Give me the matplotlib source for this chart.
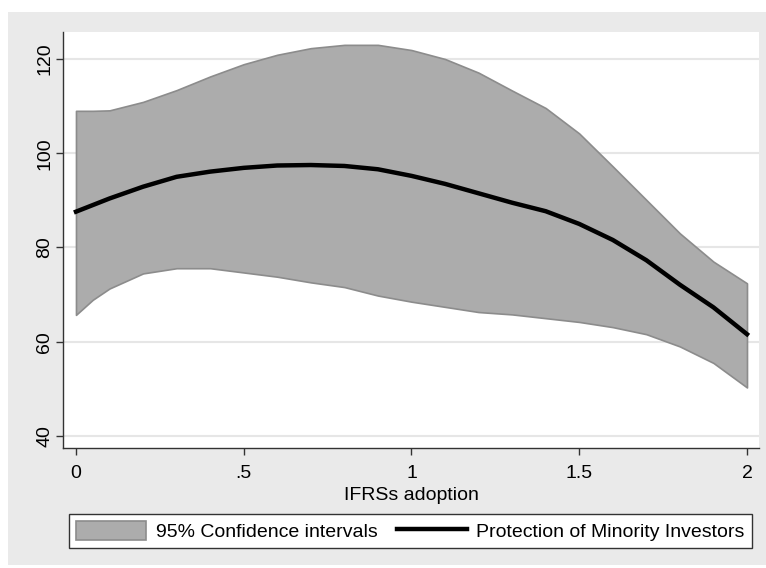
import numpy as np
import matplotlib
matplotlib.use("Agg")
import matplotlib.pyplot as plt
from matplotlib.patches import Rectangle, Patch
from matplotlib.lines import Line2D

plt.rcParams['font.family'] = ['Liberation Sans', 'DejaVu Sans']

# values
ifrs = [0.0, 0.05, 0.1, 0.2, 0.3, 0.4, 0.5, 0.6, 0.7, 0.8, 0.9, 1.0,
        1.1, 1.2, 1.3, 1.4, 1.5, 1.6, 1.7, 1.8, 1.9, 2.0]
ci_upper = [109.0, 109.0, 109.1, 110.9, 113.4, 116.3, 118.9, 120.9, 122.3, 123.0, 123.0, 121.9,
            120.0, 117.1, 113.3, 109.6, 104.2, 97.2, 90.1, 83.0, 77.0, 72.4]
fit = [87.6, 89.0, 90.4, 92.9, 95.0, 96.1, 96.9, 97.4, 97.5, 97.3, 96.6, 95.2,
       93.5, 91.5, 89.5, 87.7, 85.0, 81.6, 77.3, 72.1, 67.3, 61.6]
ci_lower = [65.7, 68.9, 71.3, 74.5, 75.6, 75.6, 74.7, 73.8, 72.6, 71.6, 69.8, 68.5,
            67.4, 66.3, 65.8, 65.0, 64.2, 63.1, 61.6, 59.0, 55.5, 50.3]

xticks = [0, 0.5, 1, 1.5, 2]
xticklabels = ['0', '.5', '1', '1.5', '2']
yticks = [40, 60, 80, 100, 120]

W, H = 766, 568
fig = plt.figure(figsize=(W / 100, H / 100), dpi=100)
fig.patch.set_facecolor('white')

# Stata-like graph region (behind the axes)
bg = Rectangle((8 / W, 1 - 565 / H), 758 / W, 553 / H,
               transform=fig.transFigure, facecolor='#eaeaea',
               edgecolor='none', zorder=-10)
fig.patches.append(bg)

ax = fig.add_axes([63 / W, 1 - 448 / H, 696 / W, 416 / H])
ax.set_zorder(1)
ax.set_facecolor('white')

ax.fill_between(ifrs, ci_lower, ci_upper, facecolor='#acacac',
                edgecolor='#8c8c8c', linewidth=1.2, zorder=2)
ax.plot(ifrs, fit, color='black', linewidth=3.2, zorder=3)

ax.set_xlim(-0.0387, 2.0358)
ax.set_ylim(37.45, 125.73)

ax.set_yticks(yticks)
ax.set_yticklabels([str(v) for v in yticks], rotation=90, va='center')
ax.set_xticks(xticks)
ax.set_xticklabels(xticklabels)
ax.grid(axis='y', color='#e6e6e6', linewidth=1.5, zorder=1)
ax.set_axisbelow(True)

for s in ['top', 'right']:
    ax.spines[s].set_visible(False)
for s in ['left', 'bottom']:
    ax.spines[s].set_color('#333333')
    ax.spines[s].set_linewidth(1.0)

ax.tick_params(axis='both', direction='out', length=5, width=1.0,
               color='#333333', labelsize=14, labelcolor='black')
ax.tick_params(axis='x', pad=7)
ax.tick_params(axis='y', pad=2)
ax.set_xlabel('IFRSs adoption', fontsize=14, labelpad=4)

handles = [Patch(facecolor='#acacac', edgecolor='#8c8c8c', linewidth=1.2),
           Line2D([], [], color='black', linewidth=3.2)]
labels = ['95% Confidence intervals', 'Protection of Minority Investors']
leg = fig.legend(handles, labels, loc='lower left',
                 bbox_to_anchor=(69 / W, 1 - 548 / H), ncol=2,
                 fontsize=14, frameon=True, fancybox=False, framealpha=1,
                 edgecolor='#333333', handlelength=3.6, handleheight=1.1,
                 handletextpad=0.5, columnspacing=1.0, borderpad=0.35,
                 borderaxespad=0)
leg.get_frame().set_linewidth(1.0)

fig.savefig('out.png', dpi=100)
